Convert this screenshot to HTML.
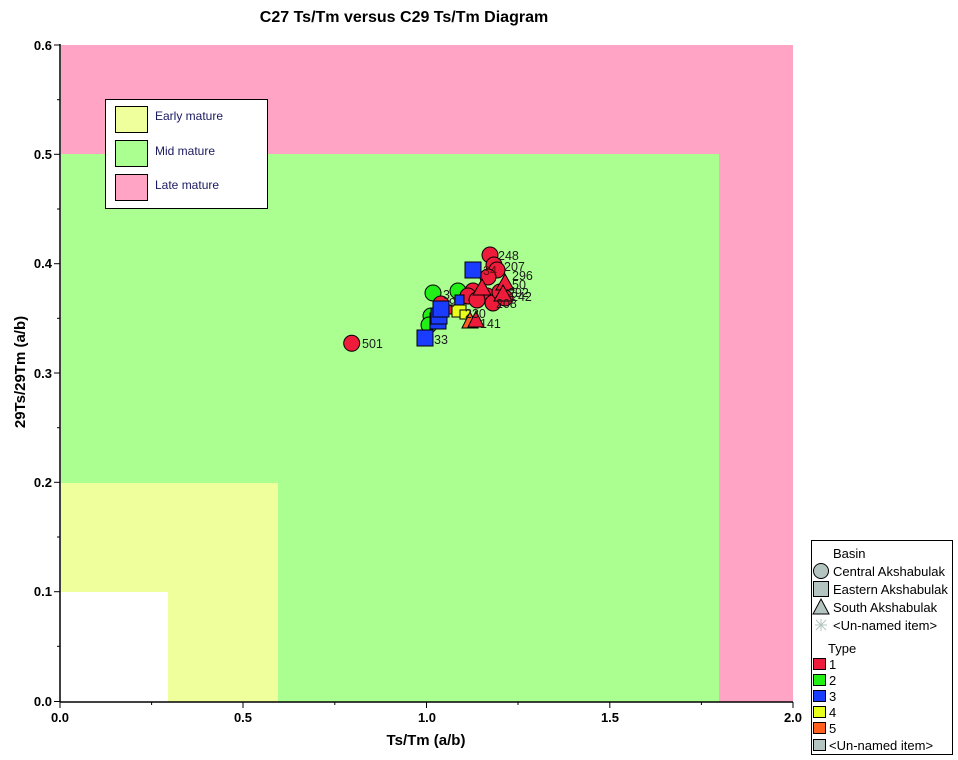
<!DOCTYPE html>
<html><head><meta charset="utf-8"><style>
html,body{margin:0;padding:0;background:#fff;}
svg{display:block;}
text{font-family:"Liberation Sans",Arial,sans-serif;}
.tk{font-size:13px;font-weight:bold;fill:#000;}
.lb{font-size:12.5px;fill:#1a1a1a;}
.lg{font-size:12px;fill:#000;}
.lg2{font-size:13px;fill:#000;}
</style></head><body>
<svg width="958" height="760" viewBox="0 0 958 760" xmlns="http://www.w3.org/2000/svg">
<rect width="958" height="760" fill="#fff"/>
<text x="404" y="22" text-anchor="middle" style="font-size:16px;font-weight:bold">C27 Ts/Tm versus C29 Ts/Tm Diagram</text>
<!-- regions -->
<rect x="61" y="45" width="732" height="657" fill="#ffa4c5"/>
<rect x="61" y="154" width="658" height="548" fill="#abff91"/>
<rect x="61" y="483" width="217" height="219" fill="#efff9c"/>
<rect x="61" y="592" width="107" height="110" fill="#fff"/>
<!-- axes -->
<g stroke="#000" stroke-width="1.5" fill="none">
<line x1="60" y1="44" x2="60" y2="702"/>
<line x1="60" y1="702" x2="793" y2="702"/>
</g>
<g stroke="#000" stroke-width="1">
<line x1="54" y1="45" x2="60" y2="45"/><line x1="54" y1="154.3" x2="60" y2="154.3"/><line x1="54" y1="263.7" x2="60" y2="263.7"/><line x1="54" y1="373" x2="60" y2="373"/><line x1="54" y1="482.3" x2="60" y2="482.3"/><line x1="54" y1="591.7" x2="60" y2="591.7"/><line x1="54" y1="701.5" x2="60" y2="701.5"/>
<line x1="57" y1="99.7" x2="60" y2="99.7"/><line x1="57" y1="209" x2="60" y2="209"/><line x1="57" y1="318.3" x2="60" y2="318.3"/><line x1="57" y1="427.7" x2="60" y2="427.7"/><line x1="57" y1="537" x2="60" y2="537"/><line x1="57" y1="646.3" x2="60" y2="646.3"/>
<line x1="60" y1="702" x2="60" y2="708"/><line x1="243" y1="702" x2="243" y2="708"/><line x1="426.5" y1="702" x2="426.5" y2="708"/><line x1="609.8" y1="702" x2="609.8" y2="708"/><line x1="793" y1="702" x2="793" y2="708"/>
<line x1="151.6" y1="702" x2="151.6" y2="705"/><line x1="334.8" y1="702" x2="334.8" y2="705"/><line x1="518" y1="702" x2="518" y2="705"/><line x1="701.4" y1="702" x2="701.4" y2="705"/>
</g>
<g class="tk" text-anchor="end">
<text x="52" y="50">0.6</text><text x="52" y="159">0.5</text><text x="52" y="268">0.4</text><text x="52" y="378">0.3</text><text x="52" y="487">0.2</text><text x="52" y="596">0.1</text><text x="52" y="706">0.0</text>
</g>
<g class="tk" text-anchor="middle">
<text x="60" y="722">0.0</text><text x="243" y="722">0.5</text><text x="427" y="722">1.0</text><text x="610" y="722">1.5</text><text x="793" y="722">2.0</text>
</g>
<text x="426" y="745" text-anchor="middle" style="font-size:15px;font-weight:bold">Ts/Tm (a/b)</text>
<text transform="translate(25,372) rotate(-90)" text-anchor="middle" style="font-size:15px;font-weight:bold">29Ts/29Tm (a/b)</text>
<!-- region legend -->
<rect x="105.5" y="99.5" width="162" height="109" fill="#fff" stroke="#000"/>
<rect x="115.5" y="106.5" width="32" height="26" fill="#efff9c" stroke="#000"/>
<rect x="115.5" y="140.5" width="32" height="26" fill="#abff91" stroke="#000"/>
<rect x="115.5" y="174.5" width="32" height="26" fill="#ffa4c5" stroke="#000"/>
<text x="155" y="120" class="lg" style="fill:#1a1a60">Early mature</text>
<text x="155" y="155" class="lg" style="fill:#1a1a60">Mid mature</text>
<text x="155" y="189" class="lg" style="fill:#1a1a60">Late mature</text>
<!-- data -->
<g stroke="#000" stroke-width="1">
<circle cx="351.7" cy="343.3" r="8" fill="#ee1c3a"/>
<circle cx="433" cy="293" r="8" fill="#22ee18"/>
<circle cx="458" cy="291" r="8" fill="#22ee18"/>
<circle cx="431" cy="316" r="8" fill="#22ee18"/>
<circle cx="429" cy="325" r="8" fill="#22ee18"/>
<circle cx="490" cy="255" r="8" fill="#ee1c3a"/>
<circle cx="494" cy="265" r="8" fill="#ee1c3a"/>
<circle cx="497" cy="270" r="8" fill="#ee1c3a"/>
<circle cx="488" cy="277" r="8" fill="#ee1c3a"/>
<circle cx="441" cy="304" r="8" fill="#ee1c3a"/>
<circle cx="473" cy="291" r="8" fill="#ee1c3a"/>
<circle cx="468" cy="296" r="8" fill="#ee1c3a"/>
<circle cx="487" cy="296" r="8" fill="#ee1c3a"/>
<circle cx="493" cy="303" r="8" fill="#ee1c3a"/>
<circle cx="477" cy="300" r="8" fill="#ee1c3a"/>
<circle cx="500" cy="292" r="8" fill="#ee1c3a"/>
<circle cx="505" cy="298" r="8" fill="#ee1c3a"/>
<rect x="465" y="262" width="16" height="16" fill="#1a3cff"/>
<rect x="455" y="295" width="9" height="10" fill="#1a3cff"/>
<rect x="447" y="305" width="9" height="9" fill="#ee1c3a"/>
<rect x="452" y="305" width="14" height="12" fill="#e8ff1a"/>
<rect x="460" y="310" width="10" height="9" fill="#e8ff1a"/>
<rect x="430" y="313" width="16" height="16" fill="#1a3cff"/>
<rect x="431" y="308" width="16" height="16" fill="#1a3cff"/>
<rect x="433" y="301" width="16" height="16" fill="#1a3cff"/>
<polygon points="470,312 478,328 462,328" fill="#ff6020"/>
<polygon points="476,311 484,327 468,327" fill="#ee1c3a"/>
<polygon points="482,279 491,295 473,295" fill="#ee1c3a"/>
<polygon points="505,274 514,290 496,290" fill="#ee1c3a"/>
<polygon points="503,285 512,301 494,301" fill="#ee1c3a"/>
<rect x="417" y="330" width="16" height="16" fill="#1a3cff"/>
</g>
<g class="lb">
<text x="362" y="348">501</text>
<text x="498" y="260">248</text>
<text x="483" y="275" style="fill:#601010">34</text>
<text x="504" y="271">207</text>
<text x="512" y="280">296</text>
<text x="512" y="289">50</text>
<text x="508" y="297">292</text>
<text x="511" y="301">242</text>
<text x="496" y="308">208</text>
<text x="465" y="318">230</text>
<text x="480" y="328">141</text>
<text x="434" y="344">33</text>
<text x="443" y="299">3</text>
<text x="449" y="307">9</text>
</g>
<!-- right legend -->
<rect x="811.5" y="540.5" width="141" height="214" fill="#fff" stroke="#000"/>
<g class="lg2">
<text x="833" y="558">Basin</text>
<text x="833" y="576">Central Akshabulak</text>
<text x="833" y="594">Eastern Akshabulak</text>
<text x="833" y="612">South Akshabulak</text>
<text x="833" y="630">&lt;Un-named item&gt;</text>
<text x="828" y="653">Type</text>
<text x="829" y="669">1</text>
<text x="829" y="685">2</text>
<text x="829" y="701">3</text>
<text x="829" y="717">4</text>
<text x="829" y="733">5</text>
<text x="829" y="750">&lt;Un-named item&gt;</text>
</g>
<g stroke="#000" stroke-width="1">
<circle cx="821" cy="571" r="7.5" fill="#b4c4c0"/>
<rect x="813.5" y="581.5" width="15" height="15" fill="#b4c4c0"/>
<polygon points="821,599 829,614 813,614" fill="#b4c4c0"/>
<rect x="813.5" y="658.5" width="12" height="11" fill="#ee1c3a"/>
<rect x="813.5" y="674.5" width="12" height="11" fill="#22ee18"/>
<rect x="813.5" y="690.5" width="12" height="11" fill="#1a3cff"/>
<rect x="813.5" y="706.5" width="12" height="11" fill="#e8ff1a"/>
<rect x="813.5" y="722.5" width="12" height="11" fill="#ff6020"/>
<rect x="813.5" y="739.5" width="12" height="11" fill="#b4c4c0"/>
</g>
<g stroke="#b4c4c0" stroke-width="1">
<line x1="815" y1="625" x2="827" y2="625"/><line x1="821" y1="619" x2="821" y2="631"/>
<line x1="816" y1="620" x2="826" y2="630"/><line x1="826" y1="620" x2="816" y2="630"/>
</g>
</svg>
</body></html>
